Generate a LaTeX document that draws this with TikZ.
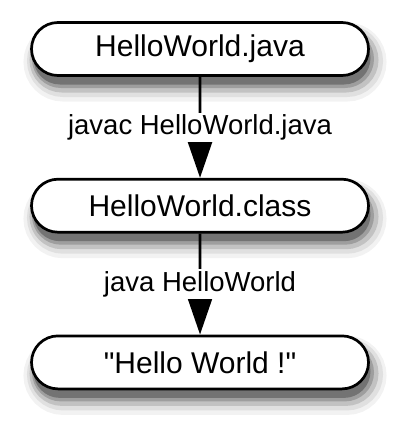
\documentclass[tikz,border=0pt]{standalone}
\usepackage{fontspec}
\setmainfont{Liberation Sans}
\usetikzlibrary{arrows.meta,positioning,shapes.misc}

\begin{document}
\begin{tikzpicture}
\tikzset{node distance=101pt}
\tikzset{filenode/.style={rounded rectangle,draw,line width=2.7pt,fill=white,
  minimum width=337pt,minimum height=53pt,inner sep=0pt,
  font=\fontsize{30}{36}\selectfont,
  preaction={draw=black!5,fill=black!5,line width=26pt,transform canvas={xshift=5pt,yshift=-13pt}},
  preaction={draw=black!12,fill=black!12,line width=19pt,transform canvas={xshift=5pt,yshift=-12pt}},
  preaction={draw=black!24,fill=black!24,line width=12pt,transform canvas={xshift=4pt,yshift=-11pt}},
  preaction={draw=black!38,fill=black!38,line width=5pt,transform canvas={xshift=3pt,yshift=-10pt}},
  preaction={fill=black!55,transform canvas={xshift=2pt,yshift=-9pt}}}}
\tikzset{cmdlabel/.style={fill=white,inner sep=2pt,font=\fontsize{27.5}{33}\selectfont}}
\tikzset{compile/.style={line width=2.7pt,-{Triangle[length=36pt,width=24pt]}}}

\useasboundingbox (0pt,0pt) rectangle (400pt,-431pt);

\node[filenode] (source) at (200pt,-49pt) {HelloWorld.java};
\node[filenode,below=of source] (bytecode) {HelloWorld.class};
\node[filenode,below=of bytecode] (output) {\textquotedbl Hello World !\textquotedbl};

\draw[compile] (source) -- node[cmdlabel] (javac) {javac HelloWorld.java} (bytecode);
\draw[compile] (bytecode) -- node[cmdlabel] (java) {java HelloWorld} (output);

\end{tikzpicture}
\end{document}
